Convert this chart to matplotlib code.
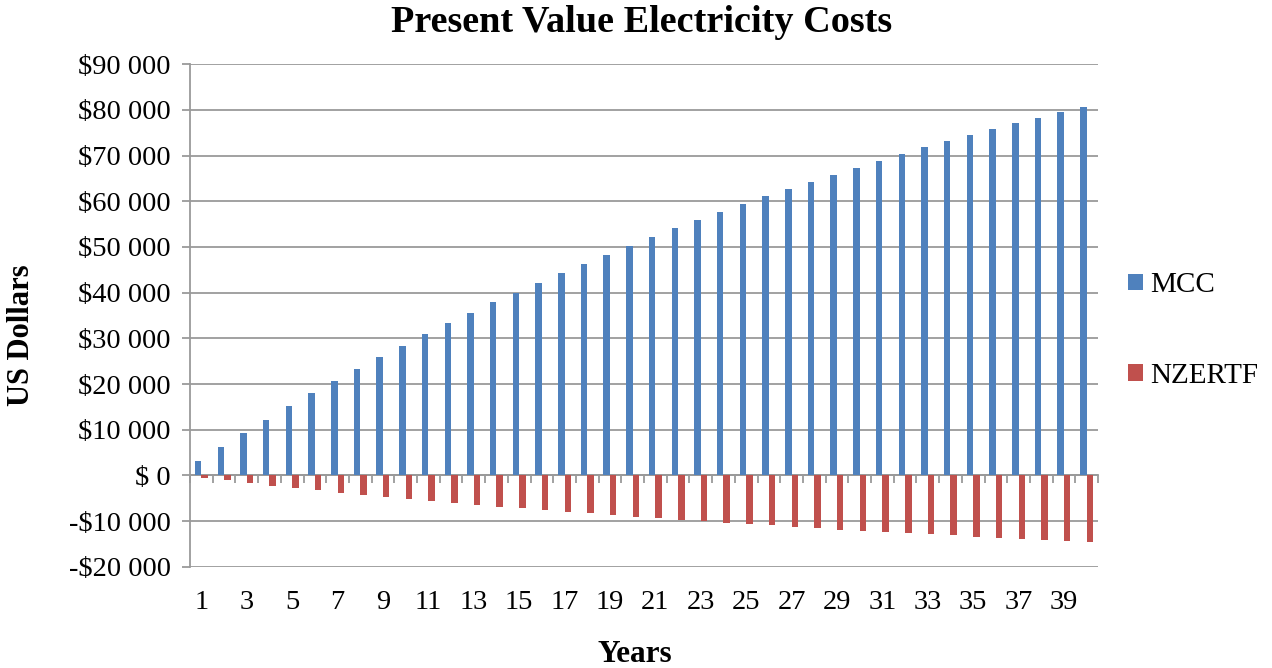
import matplotlib
matplotlib.use("Agg")
import matplotlib.pyplot as plt
import numpy as np
from matplotlib.ticker import FuncFormatter, FixedLocator

years = list(range(1, 41))
mcc = [3130, 6200, 9260, 12100, 15100, 17950, 20720, 23350, 25900, 28380,
       30870, 33280, 35540, 37850, 39930, 42120, 44230, 46350, 48320, 50290,
       52190, 54090, 55910, 57660, 59420, 61170, 62700, 64310, 65840, 67370,
       68910, 70440, 71820, 73140, 74450, 75770, 77080, 78250, 79490, 80660]
nzertf = [-590, -1100, -1690, -2270, -2700, -3290, -3800, -4240, -4680, -5110,
          -5620, -5990, -6430, -6860, -7230, -7590, -7960, -8320, -8690, -9050,
          -9340, -9710, -10000, -10360, -10660, -10950, -11280, -11610, -11900, -12120,
          -12410, -12630, -12920, -13140, -13430, -13650, -13870, -14090, -14310, -14530]
series_names = ["MCC", "NZERTF"]
title = "Present Value Electricity Costs"
y_title = "US Dollars"
x_title = "Years"

BLUE = "#4F81BD"
RED = "#C0504D"
GRID = "#9a9a9a"
SERIF = ["Liberation Serif", "DejaVu Serif"]

plt.rcParams["font.family"] = SERIF

fig = plt.figure(figsize=(12.72, 6.68), dpi=100)
ax = fig.add_axes([190 / 1272, 1 - 566.7 / 668, (1098 - 190) / 1272, (566.7 - 64.3) / 668])

x = np.arange(len(years))
w = 1 / 3.5
ax.bar(x - w / 2, mcc, width=w, color=BLUE, label=series_names[0], zorder=3)
ax.bar(x + w / 2, nzertf, width=w, color=RED, label=series_names[1], zorder=3)

ymin, ymax = -20000, 90000
ax.set_ylim(ymin, ymax)
ax.set_xlim(-0.5, len(years) - 0.5)
ax.set_yticks(np.arange(ymin, ymax + 1, 10000))


def money(v, pos=None):
    v = int(round(v))
    if v == 0:
        return "$ 0"
    s = f"{abs(v):,}".replace(",", " ")
    return ("-$" if v < 0 else "$") + s


ax.yaxis.set_major_formatter(FuncFormatter(money))
ax.grid(axis="y", color=GRID, linewidth=1.3, zorder=0)
ax.set_axisbelow(True)

for side in ["top", "right", "bottom"]:
    ax.spines[side].set_visible(False)
ax.spines["left"].set_color(GRID)
ax.spines["left"].set_linewidth(1.3)
ax.tick_params(axis="y", direction="out", length=6, color=GRID, width=1.3,
               labelsize=20.5, pad=8)

# category labels along the bottom, every other year
ax.set_xticks(x[::2])
ax.set_xticklabels([str(y) for y in years[::2]])
ax.tick_params(axis="x", length=0, labelsize=20.5, pad=17)

# horizontal axis line at zero with tick marks between categories
zero_frac = (0 - ymin) / (ymax - ymin)
sec = ax.secondary_xaxis(zero_frac)
sec.spines["bottom"].set_color(GRID)
sec.spines["bottom"].set_linewidth(1.3)
sec.spines["top"].set_visible(False)
sec.xaxis.set_major_locator(FixedLocator(np.arange(-0.5, len(years), 1.0)))
sec.tick_params(axis="x", direction="out", length=6, color=GRID, width=1.3,
                labelbottom=False, labeltop=False, bottom=True, top=False)

fig.text(642 / 1272, 1 - 23 / 668, title, ha="center", va="center",
         fontsize=27.5, fontweight="bold")
fig.text(22 / 1272, 1 - 335 / 668, y_title, ha="center", va="center",
         rotation=90, fontsize=22, fontweight="bold")
fig.text(635 / 1272, 1 - 655 / 668, x_title, ha="center", va="center",
         fontsize=22.5, fontweight="bold")

fig.legend(loc="center left", bbox_to_anchor=(1128 / 1272, 1 - 330.5 / 668),
           bbox_transform=fig.transFigure, frameon=False, fontsize=21,
           handlelength=0.5, handleheight=0.5, handletextpad=0.25,
           labelspacing=2.2, borderpad=0, borderaxespad=0)

fig.savefig("out.png", dpi=100)
